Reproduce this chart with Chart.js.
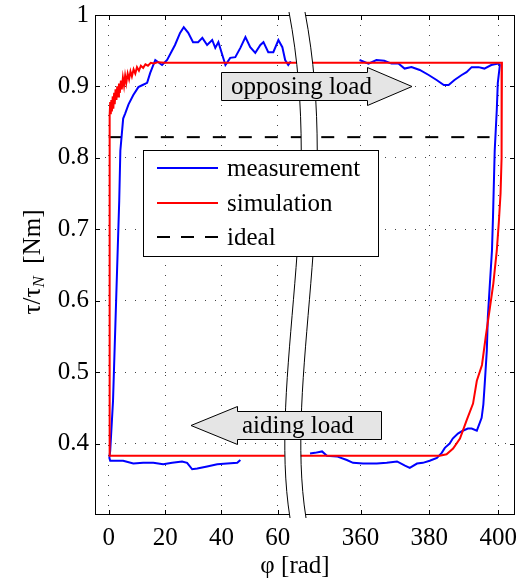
<!DOCTYPE html>
<html>
<head>
<meta charset="utf-8">
<script src="https://cdn.jsdelivr.net/npm/chart.js@4.4.0/dist/chart.umd.min.js"></script>
<style>
  html, body { margin: 0; padding: 0; background: #fff; }
</style>
</head>
<body>
<canvas id="torqueChart" width="517" height="580"></canvas>
<script>
const FONT = '"Liberation Serif", "Times New Roman", serif';

// tick values
const xTicksLeft = [0, 20, 40, 60];
const xTicksRight = [360, 380, 400];
const yTicks = [0.4, 0.5, 0.6, 0.7, 0.8, 0.9, 1];

// measurement, split at the axis break
const measurementLeft = [
  [46.7, 0.377], [45.6, 0.373], [42, 0.372], [38.5, 0.371], [34.9, 0.368], [31.4, 0.365],
  [29.6, 0.364], [27.8, 0.373], [26, 0.375], [22.5, 0.373], [19.3, 0.371], [15.8, 0.373],
  [12.2, 0.373], [8.7, 0.372], [5.1, 0.376], [3, 0.376], [0.5, 0.376], [0.2, 0.38],
  [0.5, 0.39], [1.5, 0.46], [2.6, 0.6], [3.7, 0.74], [4.1, 0.81], [5.1, 0.855],
  [5.8, 0.862], [7, 0.875], [8.7, 0.888], [10.5, 0.899], [12, 0.902], [13.6, 0.905],
  [14.7, 0.919], [16.5, 0.937], [18.9, 0.93], [20.7, 0.937], [23.5, 0.958], [25.3, 0.975],
  [26.6, 0.983], [28.2, 0.975], [29.9, 0.962], [31.7, 0.962], [33.2, 0.968], [34.9, 0.958],
  [36.7, 0.965], [37.8, 0.954], [38.9, 0.962], [40.3, 0.944], [41.4, 0.93], [43.1, 0.94],
  [44.9, 0.941], [46.7, 0.954], [48.5, 0.969], [50.2, 0.955], [52, 0.947], [53.8, 0.958],
  [54.9, 0.962], [56.6, 0.948], [58.4, 0.948], [60.2, 0.965], [61.6, 0.955], [62.6, 0.937],
  [63.7, 0.93], [64.6, 0.935]
];
const measurementRight = [
  [359.7, 0.937], [362.3, 0.932], [364.6, 0.937], [366.9, 0.936], [369, 0.932], [371, 0.932],
  [372.8, 0.925], [374.8, 0.927], [377.2, 0.923], [379.8, 0.916], [382.1, 0.909], [384.2, 0.902],
  [385.6, 0.902], [387.3, 0.909], [389.4, 0.916], [390.8, 0.92], [392.3, 0.927], [394.3, 0.927],
  [396, 0.925], [398, 0.93], [400, 0.932], [400.5, 0.93],
  [399.9, 0.905], [399.6, 0.867], [399, 0.81], [398.5, 0.717], [398.2, 0.67], [397.6, 0.624],
  [397, 0.577], [396.7, 0.53], [396.1, 0.484], [395.7, 0.455], [395.2, 0.436], [393.8, 0.418],
  [392.3, 0.421], [391.2, 0.421], [389.7, 0.418], [388.3, 0.414], [386.8, 0.407], [385.9, 0.4],
  [384.5, 0.394], [383.6, 0.387], [382.2, 0.38], [380.1, 0.376], [378.1, 0.373], [376.4, 0.372],
  [374.3, 0.366], [372.9, 0.369], [370.6, 0.375], [367.6, 0.373], [364.7, 0.372], [360.7, 0.372],
  [357.8, 0.373], [356, 0.377], [353.1, 0.382], [350.2, 0.383], [348.8, 0.389], [346.7, 0.387],
  [345.3, 0.386]
];

// simulation, split at the axis break
const simulationLeft = [
  [67.5, 0.383], [0.3, 0.383], [0.3, 0.86], [0.5, 0.878], [0.7, 0.861], [0.9, 0.881],
  [1.1, 0.865], [1.4, 0.886], [1.6, 0.869], [1.9, 0.891], [2.1, 0.875], [2.4, 0.896],
  [2.7, 0.881], [3.0, 0.9], [3.3, 0.886], [3.6, 0.904], [3.9, 0.891], [4.3, 0.908],
  [4.6, 0.896], [5.0, 0.912], [5.4, 0.901], [5.8, 0.915], [6.2, 0.905], [6.7, 0.918],
  [7.2, 0.91], [7.7, 0.921], [8.2, 0.914], [8.8, 0.924], [9.4, 0.918], [10.0, 0.927],
  [10.7, 0.922], [11.4, 0.929], [12.2, 0.926], [13.0, 0.931], [13.9, 0.929], [14.9, 0.933],
  [16, 0.932], [17.5, 0.934], [20, 0.933], [67.5, 0.933]
];
const simulationRight = [
  [341, 0.933], [401.1, 0.933], [401.1, 0.9], [400.9, 0.8], [400.7, 0.75], [400.2, 0.71],
  [399.6, 0.67], [398.6, 0.624], [397.6, 0.59], [396.4, 0.55], [395.3, 0.51], [393.8, 0.488],
  [392.7, 0.456], [390.8, 0.432], [388.9, 0.407], [386.9, 0.393], [385, 0.385], [383, 0.383],
  [341, 0.383]
];

const idealLeft = [[0, 0.829], [67.5, 0.829]];
const idealRight = [[341, 0.829], [397.5, 0.829]];

const legendLabels = ['measurement', 'simulation', 'ideal'];
const arrowLabels = ['opposing load', 'aiding load'];

const pts = arr => arr.map(([x, y]) => ({ x, y }));

function series(label, data, xAxisID, color, dash) {
  return {
    label, data: pts(data), xAxisID, yAxisID: 'y',
    borderColor: color, backgroundColor: color, borderWidth: 2,
    borderDash: dash || [], pointRadius: 0, tension: 0, fill: false
  };
}

function xScale(min, max, ticks, weight) {
  return {
    type: 'linear', position: 'bottom', stack: 'phi', stackWeight: weight,
    min, max,
    afterBuildTicks: s => { s.ticks = ticks.map(v => ({ value: v })); },
    afterFit: s => { s.height = 65; s.paddingLeft = 0; s.paddingRight = 0; },
    grid: { color: '#444', lineWidth: 1, drawTicks: false },
    border: { display: false, dash: [1, 9] },
    ticks: { color: '#000', font: { family: FONT, size: 25 }, padding: 8, maxRotation: 0 }
  };
}

const decorations = {
  id: 'decorations',
  afterDatasetsDraw(chart) {
    const { ctx, chartArea: a, scales } = chart;
    ctx.save();

    // axes box
    ctx.strokeStyle = '#000';
    ctx.lineWidth = 1;
    ctx.strokeRect(a.left + 0.5, a.top + 0.5, a.right - a.left - 1, a.bottom - a.top - 1);

    // inward tick marks
    ctx.beginPath();
    yTicks.forEach(v => {
      const py = Math.round(scales.y.getPixelForValue(v)) + 0.5;
      ctx.moveTo(a.left, py); ctx.lineTo(a.left + 5, py);
      ctx.moveTo(a.right, py); ctx.lineTo(a.right - 5, py);
    });
    [[scales.x1, xTicksLeft], [scales.x2, xTicksRight]].forEach(([s, ticks]) => {
      ticks.forEach(v => {
        const px = Math.round(s.getPixelForValue(v)) + 0.5;
        ctx.moveTo(px, a.bottom); ctx.lineTo(px, a.bottom - 5);
        ctx.moveTo(px, a.top); ctx.lineTo(px, a.top + 5);
      });
    });
    ctx.stroke();

    // axis break
    const bx = scales.x1.right;
    ctx.beginPath();
    ctx.moveTo(bx - 9, a.top - 3);
    ctx.bezierCurveTo(bx + 27, 200, bx - 30, 380, bx - 8, a.bottom + 3);
    ctx.lineTo(bx + 8, a.bottom + 3);
    ctx.bezierCurveTo(bx - 14, 380, bx + 43, 200, bx + 7, a.top - 3);
    ctx.closePath();
    ctx.fillStyle = '#fff';
    ctx.fill();
    ctx.beginPath();
    ctx.moveTo(bx - 9, a.top - 3);
    ctx.bezierCurveTo(bx + 27, 200, bx - 30, 380, bx - 8, a.bottom + 3);
    ctx.moveTo(bx + 7, a.top - 3);
    ctx.bezierCurveTo(bx + 43, 200, bx - 14, 380, bx + 8, a.bottom + 3);
    ctx.strokeStyle = '#000';
    ctx.lineWidth = 1;
    ctx.stroke();

    // load arrows
    ctx.font = '25px ' + FONT;
    ctx.textBaseline = 'middle';
    ctx.textAlign = 'left';
    function arrow(poly, text, tx, ty) {
      ctx.beginPath();
      poly.forEach(([x, y], i) => i ? ctx.lineTo(x, y) : ctx.moveTo(x, y));
      ctx.closePath();
      ctx.fillStyle = '#e5e5e5';
      ctx.fill();
      ctx.strokeStyle = '#000';
      ctx.stroke();
      ctx.fillStyle = '#000';
      ctx.fillText(text, tx, ty);
    }
    arrow([[221.5, 72.5], [367.5, 72.5], [367.5, 67.5], [412, 86.5], [367.5, 105.5], [367.5, 100.5], [221.5, 100.5]],
      arrowLabels[0], 231, 87);
    arrow([[191, 425.5], [237.5, 406.5], [237.5, 411.5], [381.5, 411.5], [381.5, 439.5], [237.5, 439.5], [237.5, 444.5]],
      arrowLabels[1], 242, 426);

    // legend
    ctx.fillStyle = '#fff';
    ctx.fillRect(143.5, 150.5, 235, 106);
    ctx.strokeStyle = '#000';
    ctx.lineWidth = 1;
    ctx.strokeRect(143.5, 150.5, 235, 106);
    const rows = [168, 203, 237];
    legendLabels.forEach((lab, i) => {
      const ds = chart.data.datasets.find(d => d.label === lab);
      ctx.beginPath();
      ctx.setLineDash(ds.borderDash.length ? [13, 11] : []);
      ctx.moveTo(157, rows[i]);
      ctx.lineTo(218, rows[i]);
      ctx.strokeStyle = ds.borderColor;
      ctx.lineWidth = 2;
      ctx.stroke();
      ctx.setLineDash([]);
      ctx.fillStyle = '#000';
      ctx.fillText(lab, 227, rows[i] + 1);
    });

    // x axis title, centred on the break
    ctx.textAlign = 'center';
    ctx.fillText('φ [rad]', bx - 3, 566);

    // y axis title with subscript
    ctx.translate(33, 262);
    ctx.rotate(-Math.PI / 2);
    const parts = [
      { t: 'τ/τ', f: '25px ' + FONT, dy: 0 },
      { t: 'N', f: 'italic 17px ' + FONT, dy: 7 },
      { t: '  [Nm]', f: '25px ' + FONT, dy: 0 }
    ];
    let total = 0;
    parts.forEach(p => { ctx.font = p.f; p.w = ctx.measureText(p.t).width; total += p.w; });
    let x = -total / 2;
    ctx.textAlign = 'left';
    parts.forEach(p => { ctx.font = p.f; ctx.fillText(p.t, x, p.dy); x += p.w; });

    ctx.restore();
  }
};

new Chart(document.getElementById('torqueChart'), {
  type: 'line',
  data: {
    datasets: [
      series('simulation', simulationLeft, 'x1', '#ff0000'),
      series('simulation', simulationRight, 'x2', '#ff0000'),
      series('measurement', measurementLeft, 'x1', '#0000ff'),
      series('measurement', measurementRight, 'x2', '#0000ff'),
      series('ideal', idealLeft, 'x1', '#000000', [13, 13]),
      series('ideal', idealRight, 'x2', '#000000', [13, 13])
    ]
  },
  options: {
    responsive: false,
    animation: false,
    layout: { padding: { top: 15, right: 2, left: 0, bottom: 0 } },
    plugins: { legend: { display: false }, tooltip: { enabled: false } },
    scales: {
      x1: xScale(-4.9, 67.16, xTicksLeft, 203),
      x2: xScale(341.8, 404.9, xTicksRight, 217),
      y: {
        type: 'linear', position: 'left', min: 0.3, max: 1,
        afterBuildTicks: s => { s.ticks = yTicks.map(v => ({ value: v })); },
        afterFit: s => { s.width = 95; s.paddingTop = 0; s.paddingBottom = 0; },
        grid: { color: '#444', lineWidth: 1, drawTicks: false },
        border: { display: false, dash: [1, 9] },
        ticks: { color: '#000', font: { family: FONT, size: 25 }, padding: 6, callback: v => String(v) }
      }
    }
  },
  plugins: [decorations]
});
</script>
</body>
</html>
